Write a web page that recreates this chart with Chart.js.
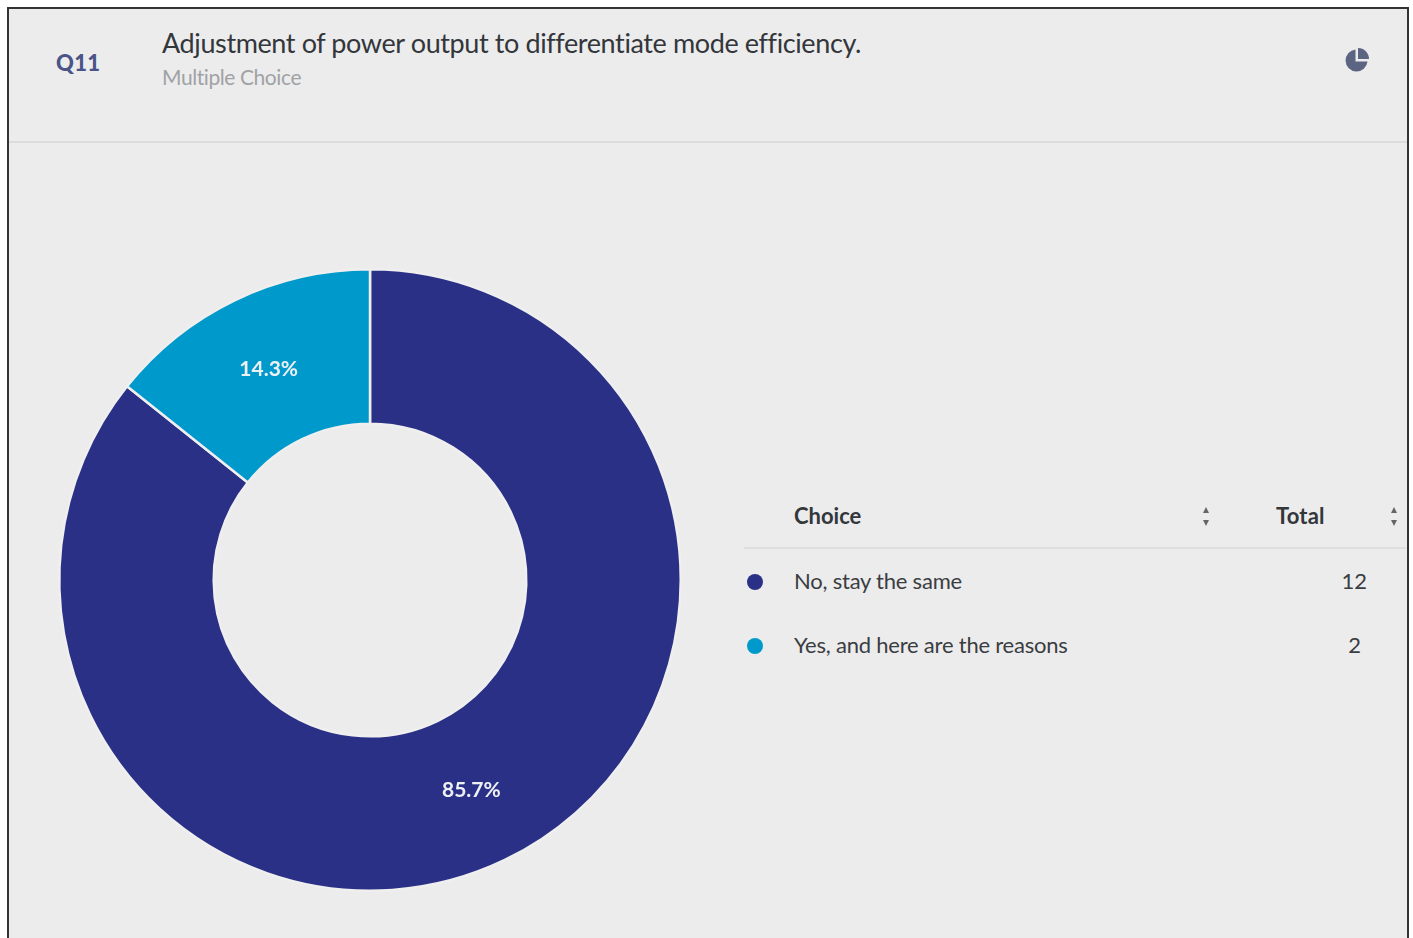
<!DOCTYPE html>
<html><head><meta charset="utf-8">
<script src="https://cdn.jsdelivr.net/npm/chart.js@4/dist/chart.umd.min.js"></script>
<style>
html,body{margin:0;padding:0;background:#fff;width:1413px;height:938px;overflow:hidden;font-family:Lato,sans-serif}
#all{position:absolute;left:0;top:0;width:1413px;height:938px;filter:blur(0.55px)}
#card{position:absolute;left:7px;top:7px;width:1398px;height:960px;background:#ececec;border:2px solid #333;box-sizing:content-box}
.t{position:absolute;white-space:nowrap;line-height:1}
#sep{position:absolute;left:9px;top:141px;width:1398px;height:2px;background:#dcdcdc}
#hsep{position:absolute;left:744px;top:547px;width:662px;height:2px;background:#dedede}
#wrap{position:absolute;left:50px;top:260px;width:640px;height:640px}
.dot{position:absolute;width:16px;height:16px;border-radius:50%}
.sort{position:absolute;width:0;height:0;border-left:3px solid transparent;border-right:3px solid transparent}
</style></head><body>
<div id="all">
<div id="card"></div>
<div id="sep"></div><div id="hsep"></div>
<div class="t" id="qno" style="left:56px;top:52px;font-size:22px;font-weight:900;color:#4a5488;letter-spacing:.3px">Q11</div>
<div class="t" id="title" style="left:162px;top:29px;font-size:27px;color:#33363b;letter-spacing:-.39px">Adjustment of power output to differentiate mode efficiency.</div>
<div class="t" id="sub" style="left:162px;top:66px;font-size:21px;color:#a0a2a6;letter-spacing:-.42px">Multiple Choice</div>
<svg style="position:absolute;left:1343px;top:46px" width="28" height="28" viewBox="0 0 28 28">
<path d="M12.5 3.5 A11 11 0 1 0 24.5 15.5 L12.5 15.5 Z" fill="#5b6480"/>
<path d="M15 2 A11 11 0 0 1 26 13 L15 13 Z" fill="#5b6480"/></svg>
<div id="wrap"><canvas id="c" width="640" height="640"></canvas></div>
<div class="t" id="h1" style="left:794px;top:505px;font-size:22px;font-weight:700;color:#33363b">Choice</div>
<div class="t" id="h2" style="left:1276px;top:505px;font-size:22px;font-weight:700;color:#33363b;letter-spacing:.2px">Total</div>
<div class="sort" style="left:1203px;top:507px;border-bottom:6px solid #666"></div>
<div class="sort" style="left:1203px;top:520px;border-top:6px solid #666"></div>
<div class="sort" style="left:1391px;top:507px;border-bottom:6px solid #666"></div>
<div class="sort" style="left:1391px;top:520px;border-top:6px solid #666"></div>
<div id="rows"></div>
</div>
<script>
const categories = ["No, stay the same", "Yes, and here are the reasons"];
const totals = [12, 2];
const percentLabels = ["85.7%", "14.3%"];
const colors = ["#2b3087", "#0099cc"];
const rowTops = [571, 635];

const rows = document.getElementById('rows');
categories.forEach((c, i) => {
  const y = rowTops[i];
  rows.insertAdjacentHTML('beforeend',
    `<div class="dot" style="left:747px;top:${y+3}px;background:${colors[i]}"></div>
     <div class="t" style="left:794px;top:${y-1}px;font-size:22px;color:#3a3d42;letter-spacing:-.22px">${c}</div>
     <div class="t" style="left:1300px;width:67px;text-align:right;top:${y-1}px;font-size:22px;color:#3a3d42;${i==1?'padding-right:6px;width:61px;':''}">${totals[i]}</div>`);
});

const labelPlugin = {
  id: 'sliceLabels',
  afterDatasetsDraw(chart) {
    const ctx = chart.ctx;
    chart.getDatasetMeta(0).data.forEach((arc, i) => {
      const p = arc.tooltipPosition();
      ctx.save();
      ctx.fillStyle = '#eef1f4';
      ctx.font = '700 21px Lato, sans-serif';
      ctx.textAlign = 'center';
      ctx.textBaseline = 'middle';
      ctx.fillText(percentLabels[i], p.x, p.y);
      ctx.restore();
    });
  }
};

new Chart(document.getElementById('c'), {
  type: 'doughnut',
  data: { labels: categories, datasets: [{ data: totals, backgroundColor: colors, borderColor: '#efefef', borderWidth: 2.5 }] },
  options: {
    responsive: false, animation: false, cutout: '50.3%',
    layout: { padding: 8 },
    plugins: { legend: { display: false }, tooltip: { enabled: false } }
  },
  plugins: [labelPlugin]
});
</script>
</body></html>
